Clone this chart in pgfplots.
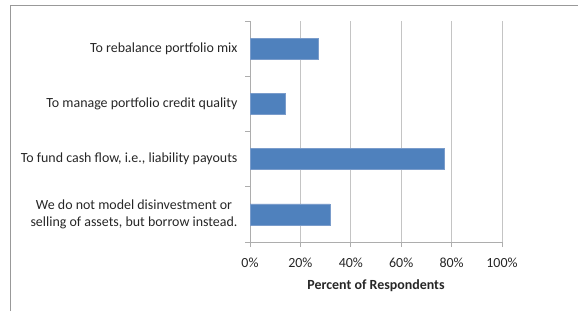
\documentclass[border=0pt]{standalone}
\usepackage{pgfplots}
\pgfplotsset{compat=1.18}
\usepackage{fontspec}
\setmainfont{Carlito}
\definecolor{barblue}{HTML}{4F81BD}
\definecolor{baredge}{HTML}{7A9CCB}
\definecolor{gridgray}{HTML}{C4C4C4}
\definecolor{axisgray}{HTML}{ADADAD}
\definecolor{txt}{HTML}{262626}
\begin{document}
\begin{tikzpicture}[x=1bp,y=1bp]
\useasboundingbox (0,0) rectangle (578,311);
\draw[gray!80, line width=0.8bp] (10.5,0) -- (10.5,306) -- (578,306);
\begin{axis}[
  at={(250bp,69bp)}, anchor=south west,
  scale only axis, width=252bp, height=221bp,
  xbar, bar width=21bp,
  xmin=0, xmax=100, ymin=-0.5, ymax=3.5,
  axis x line*=bottom, axis y line*=left,
  axis line style={axisgray, line width=0.8bp},
  xtick={0,20,...,100},
  xticklabels={0\%,20\%,40\%,60\%,80\%,100\%},
  xmajorgrids, major grid style={gridgray, line width=0.7bp},
  major tick length=5bp,
  tick style={axisgray, line width=0.8bp},
  tick align=outside,
  ytick={-0.5,0.5,1.5,2.5,3.5},
  yticklabels={},
  extra y ticks={0,1,2,3},
  extra y tick labels={{We do not model disinvestment or\\selling of assets, but borrow instead.},{To fund cash flow, i.e., liability payouts},{To manage portfolio credit quality},{To rebalance portfolio mix}},
  extra y tick style={tick style={draw=none}, yticklabel style={align=center, font=\fontsize{14}{18}\selectfont, text=txt, xshift=-4bp}},
  xticklabel style={font=\fontsize{14}{16}\selectfont, text=txt, yshift=-7bp},
  xlabel={\textbf{Percent of Respondents}},
  xlabel style={font=\fontsize{14}{16}\selectfont, text=txt, yshift=-6bp},
  clip=false,
]
\addplot[fill=barblue, draw=baredge, line width=0.5bp] coordinates {(31.7,0) (77.2,1) (13.8,2) (27.2,3)};
\end{axis}
\end{tikzpicture}
\end{document}
